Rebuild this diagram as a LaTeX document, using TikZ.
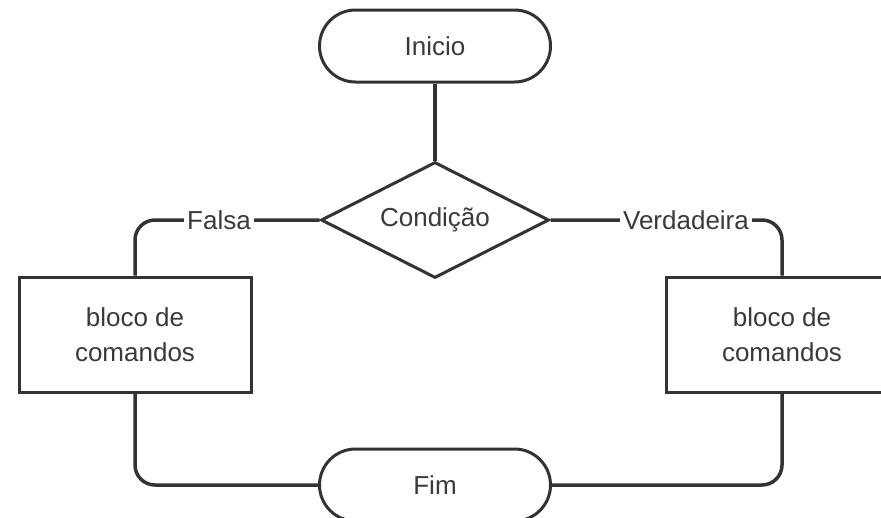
\documentclass[tikz,border=0pt]{standalone}
\usepackage{fontspec}
\setmainfont{Liberation Sans}
\usetikzlibrary{shapes.geometric,shapes.misc}
\definecolor{ink}{HTML}{333333}
\definecolor{txt}{HTML}{3A3A3A}
\begin{document}
\begin{tikzpicture}[x=1pt,y=-1pt,
  every node/.style={font=\fontsize{26}{35}\selectfont, text=txt},
  shapebase/.style={draw=ink, line width=3pt, fill=white, inner sep=0pt},
  term/.style={shapebase, rounded rectangle, minimum width=231pt, minimum height=72pt},
  decis/.style={shapebase, diamond, aspect=1.97, minimum width=228pt, minimum height=116pt},
  blk/.style={shapebase, rectangle, minimum width=232pt, minimum height=115pt, align=center},
  conn/.style={draw=ink, line width=3.5pt, rounded corners=20pt},
  lbl/.style={fill=white, inner sep=3pt}]
\useasboundingbox (0,0) rectangle (881,517);
\clip (0,0) rectangle (881,517);
\node[term] (inicio) at (435,46) {Inicio};
\node[decis] (cond) at (435,220) {Condição};
\node[blk] (lbox) at (135,334.5) {bloco de\\comandos};
\node[blk] (rbox) at (782,334.5) {bloco de\\comandos};
\node[term] (fim) at (435,485) {Fim};
\draw[conn] (inicio.south) -- (cond.north);
\draw[conn] (cond.west) -| (lbox.north);
\draw[conn] (cond.east) -| (rbox.north);
\draw[conn] (lbox.south) |- (fim.west);
\draw[conn] (rbox.south) |- (fim.east);
\node[lbl] (falsa) at (219,220) {Falsa};
\node[lbl] (verd) at (686,220) {Verdadeira};
\end{tikzpicture}
\end{document}
